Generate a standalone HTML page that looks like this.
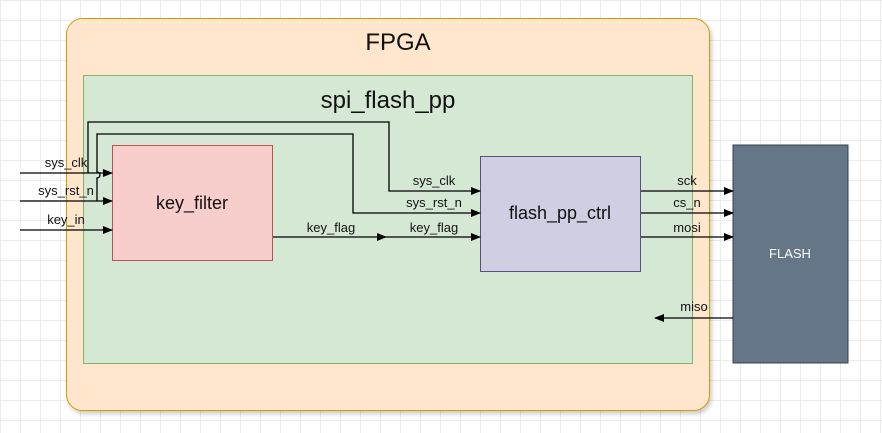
<!DOCTYPE html>
<html><head><style>
body{margin:0;width:882px;height:428px;overflow:hidden;background:#fff;
background-image:linear-gradient(#ececec 1px,transparent 1px),linear-gradient(90deg,#ececec 1px,transparent 1px);background-size:20px 20px;}
text{font-family:"Liberation Sans",sans-serif;fill:#111;}
</style></head><body>
<svg width="882" height="428" xmlns="http://www.w3.org/2000/svg">
<defs><marker id="a" markerWidth="10" markerHeight="8" refX="9" refY="4" orient="auto" markerUnits="userSpaceOnUse"><path d="M0,0 L10,4 L0,8 z" fill="#000"/></marker></defs>
<rect x="66.5" y="18.5" width="643" height="392" rx="16" fill="#ffe6cc" stroke="#d79b00" style="filter:drop-shadow(2px 3px 2px rgba(0,0,0,.2))"/>
<text x="398" y="50" font-size="24" text-anchor="middle">FPGA</text>
<rect x="83.5" y="75.5" width="609" height="288" fill="#d5e8d4" stroke="#82b366"/>
<text x="388" y="108" font-size="24" text-anchor="middle">spi_flash_pp</text>
<rect x="112.5" y="145.5" width="160" height="115" fill="#f8cecc" stroke="#b85450"/>
<text x="192" y="209" font-size="18" text-anchor="middle">key_filter</text>
<rect x="480.5" y="156.5" width="160" height="115" fill="#d0cee2" stroke="#56517e"/>
<text x="560" y="219" font-size="18" text-anchor="middle">flash_pp_ctrl</text>
<rect x="733" y="145" width="115" height="218" fill="#647687" stroke="#314354"/>
<text x="790" y="258" font-size="13" text-anchor="middle" style="fill:#fff">FLASH</text>
<g stroke="#000" stroke-width="1.3" fill="none">
<path d="M20,173 H112" marker-end="url(#a)"/>
<path d="M20,201 H112" marker-end="url(#a)"/>
<path d="M20,230 H112" marker-end="url(#a)"/>
<path d="M88,173 V122 H389 V191 H480" marker-end="url(#a)"/>
<path d="M97,201 V178 a3,3 0 0 0 0,-6 V134 H353 V213 H480" marker-end="url(#a)"/>
<path d="M273,237 H386" marker-end="url(#a)"/>
<path d="M386,237 H480" marker-end="url(#a)"/>
<path d="M641,191 H733" marker-end="url(#a)"/>
<path d="M641,213 H733" marker-end="url(#a)"/>
<path d="M641,237 H733" marker-end="url(#a)"/>
<path d="M733,318 H655" marker-end="url(#a)"/>
</g>
<g font-size="13" text-anchor="middle">
<text x="66" y="167">sys_clk</text>
<text x="66" y="195">sys_rst_n</text>
<text x="66" y="224">key_in</text>
<text x="331" y="232">key_flag</text>
<text x="434" y="185">sys_clk</text>
<text x="434" y="207">sys_rst_n</text>
<text x="434" y="232">key_flag</text>
<text x="687" y="185">sck</text>
<text x="687" y="207">cs_n</text>
<text x="687" y="232">mosi</text>
<text x="694" y="311">miso</text>
</g>
</svg>
</body></html>
